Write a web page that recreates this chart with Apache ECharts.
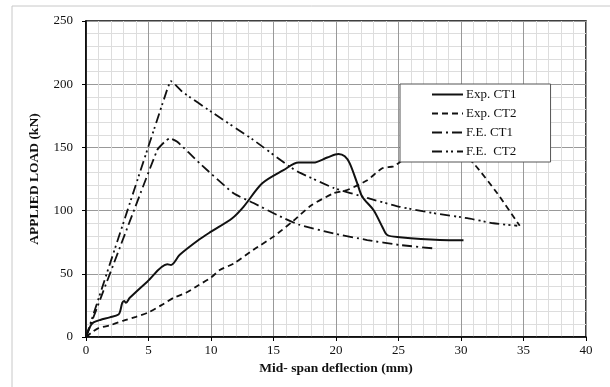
<!DOCTYPE html>
<html>
<head>
<meta charset="utf-8">
<script src="https://cdn.jsdelivr.net/npm/echarts@6/dist/echarts.min.js"></script>
<style>
  html, body { margin: 0; padding: 0; background: #fff; }
  #main { width: 610px; height: 387px; }
</style>
</head>
<body>
<div id="main"></div>
<script>
var chartDom = document.getElementById('main')
var myChart = echarts.init(chartDom)

// deflection (mm) / load (kN)
const expCT1X = [0, 0.37, 0.6, 1.14, 1.9, 2.6, 2.75, 2.9, 3.05, 3.2, 3.5, 4.9, 6.5, 6.8, 7.5, 9.0, 10.0, 11.7, 12.6, 14.1, 15.8, 17.0, 18.2, 19.3, 20.2, 20.7, 21.1, 21.7, 22.1, 23.0, 23.7, 24.1, 25.1, 28.3, 30.2]
const expCT1Y = [0, 9, 11.5, 13.5, 15.5, 17.8, 21, 27, 28.5, 27, 31, 43.8, 57.5, 57, 65, 76.7, 83.3, 94, 103, 121.6, 132, 138, 138, 142, 144.8, 143, 137.4, 121.6, 111, 100.5, 87.3, 80.7, 78.9, 76.7, 76.5]

const expCT2X = [0, 0.5, 1, 2, 3, 4, 5, 6, 7, 8, 9, 10, 10.7, 11.8, 13.4, 15, 16.6, 18, 19.8, 20.9, 22.5, 23.7, 24.6, 25.5, 27.5, 29.5, 31, 32.9, 34.7]
const expCT2Y = [0, 4, 7, 9.5, 13, 16, 19.5, 25, 31, 35, 41, 47, 53, 58, 69, 79.4, 92, 104, 113.7, 116.3, 124, 133.5, 135, 141, 150, 150, 137.4, 113.7, 88]

const feCT1X = [0, 5.7, 6.3, 6.7, 7.3, 9.1, 11.8, 13.4, 15.3, 17.0, 19.8, 22.5, 25.1, 27.7]
const feCT1Y = [0, 148, 154.5, 157.2, 154.5, 137.4, 113.7, 106, 96.5, 89, 82, 76.7, 72.8, 70.2]

const feCT2X = [0, 6.5, 6.8, 7.2, 7.7, 10.2, 13.4, 16.3, 17.1, 19.8, 22.5, 25.1, 27.8, 30.5, 32.6, 34.5]
const feCT2Y = [0, 196, 202.5, 199, 194, 177, 155.8, 134.7, 130, 118, 110, 103, 98, 94, 90, 88]

const seriesNames = ['Exp. CT1', 'Exp. CT2', 'F.E. CT1', 'F.E.  CT2']
const xTicks = [0, 40, 5]
const yTicks = [0, 250, 50]

const pair = (xs, ys) => xs.map((x, i) => [x, ys[i]])
const font = 'Liberation Serif'

const mkLine = (name, xs, ys, width, type, smooth) => ({
  name: name,
  type: 'line',
  data: pair(xs, ys),
  symbol: 'circle',
  showSymbol: false,
  smooth: smooth,
  lineStyle: { color: '#111', width: width, type: type },
  itemStyle: { color: '#111' },
  z: 3
})

var option = {
  animation: false,
  backgroundColor: '#fff',
  textStyle: { fontFamily: font },
  graphic: [
    {
      type: 'rect',
      shape: { x: 12, y: 6, width: 700, height: 500 },
      style: { fill: null, stroke: '#c8c8c8', lineWidth: 1 },
      silent: true
    }
  ],
  grid: {
    left: 86, right: 24, top: 21, bottom: 50,
    show: true,
    borderColor: '#000',
    borderWidth: 1.5
  },
  legend: {
    data: seriesNames,
    orient: 'vertical',
    left: 400,
    top: 84,
    padding: [4, 34, 4, 31],
    itemWidth: 31,
    itemHeight: 14,
    itemGap: 6,
    backgroundColor: '#fff',
    borderColor: '#555',
    borderWidth: 1,
    itemStyle: { color: 'rgba(0,0,0,0)', borderColor: 'rgba(0,0,0,0)', borderWidth: 0 },
    textStyle: { fontFamily: font, fontSize: 13, color: '#111', padding: [0, 0, 0, -2] }
  },
  xAxis: {
    type: 'value',
    min: xTicks[0], max: xTicks[1], interval: xTicks[2],
    name: 'Mid- span deflection (mm)',
    nameLocation: 'middle',
    nameGap: 22,
    nameTextStyle: { fontFamily: font, fontWeight: 'bold', fontSize: 13.5, color: '#111' },
    axisLine: { onZero: false, lineStyle: { color: '#000', width: 1.5 } },
    axisTick: { show: true, length: 4, lineStyle: { color: '#000' } },
    axisLabel: { fontFamily: font, fontSize: 13, color: '#111', margin: 7 },
    splitLine: { show: true, lineStyle: { color: '#999', width: 1 } },
    minorTick: { show: false, splitNumber: 5 },
    minorSplitLine: { show: true, lineStyle: { color: '#ddd', width: 1 } }
  },
  yAxis: {
    type: 'value',
    min: yTicks[0], max: yTicks[1], interval: yTicks[2],
    name: 'APPLIED LOAD (kN)',
    nameLocation: 'middle',
    nameGap: 44,
    nameTextStyle: { fontFamily: font, fontWeight: 'bold', fontSize: 13.5, color: '#111' },
    axisLine: { onZero: false, lineStyle: { color: '#000', width: 1.5 } },
    axisTick: { show: true, length: 4, lineStyle: { color: '#000' } },
    axisLabel: { fontFamily: font, fontSize: 13, color: '#111', margin: 13 },
    splitLine: { show: true, lineStyle: { color: '#999', width: 1 } },
    minorTick: { show: false, splitNumber: 5 },
    minorSplitLine: { show: true, lineStyle: { color: '#ddd', width: 1 } }
  },
  series: [
    mkLine(seriesNames[0], expCT1X, expCT1Y, 2, 'solid', 0.3),
    mkLine(seriesNames[1], expCT2X, expCT2Y, 1.8, [6, 4], 0.2),
    mkLine(seriesNames[2], feCT1X, feCT1Y, 1.8, [10, 4, 2, 4], 0.15),
    mkLine(seriesNames[3], feCT2X, feCT2Y, 1.8, [10, 4, 2, 3, 2, 4], 0.15)
  ]
}

option && myChart.setOption(option)
</script>
</body>
</html>
